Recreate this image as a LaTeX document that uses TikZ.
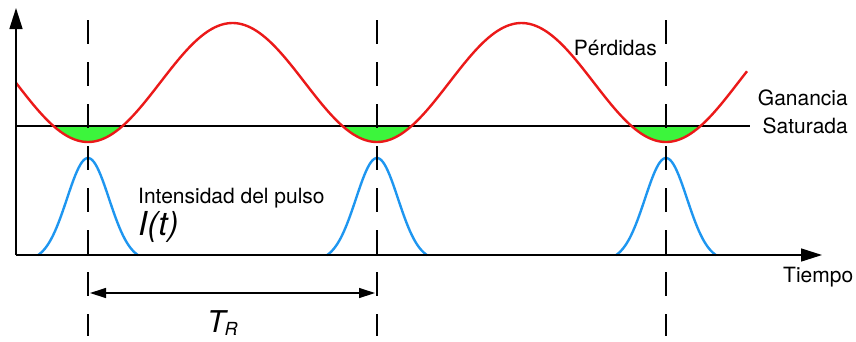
\documentclass[tikz,border=0pt]{standalone}
\usepackage{fontspec}
\setmainfont{TeX Gyre Heros}
\usetikzlibrary{arrows.meta}
\definecolor{lossred}{RGB}{235,25,25}
\definecolor{gaingreen}{RGB}{60,245,60}
\definecolor{pulseblue}{RGB}{30,150,240}
\tikzset{
  axis/.style={line width=1.5pt,-{Triangle[length=21pt,width=13pt]}},
  base/.style={line width=1.5pt},
  guide/.style={line width=1.4pt,dash pattern=on 24pt off 18pt,dash phase=-10pt},
  loss/.style={line width=2.4pt,lossred},
  pulse/.style={line width=2.4pt,pulseblue},
  period/.style={line width=1.3pt,{Triangle[length=16pt,width=10pt]}-{Triangle[length=16pt,width=10pt]}},
  lbl/.style={font=\fontsize{21}{28}\selectfont,inner sep=0pt},
}
\begin{document}
\begin{tikzpicture}[x=1pt,y=-1pt]
\useasboundingbox (0,0) rectangle (856,341);
\pgfmathsetmacro{\hw}{289*acos(43.5/59.5)/360}
% green gain windows
\foreach \c in {88,377,666}{
  \fill[gaingreen] plot[domain=\c-\hw:\c+\hw,samples=40] (\x,{82.5+59.5*cos((\x-\c)*1.245675)}) -- cycle;
}
% coordinates
\coordinate (o) at (16,255);
\coordinate (ytop) at (16,8);
\coordinate (xend) at (822,255);
\coordinate (gs) at (16,126);
\coordinate (ge) at (750,126);
% saturated gain line
\draw[base] (gs) -- (ge);
% losses
\draw[loss] plot[domain=16:747,samples=250] (\x,{82.5+59.5*cos((\x-88)*1.245675)});
% pulses
\foreach \c in {88,377,666}{
  \draw[pulse] plot[domain=\c-50:\c+50,samples=60] (\x,{255-97*(exp(-((\x-\c)/21)^2/2)-0.06)/0.94});
}
% axes
\draw[axis] (o) -- (ytop);
\draw[axis] (o) -- (xend);
% dashed guides
\foreach \c/\n in {88/a,377/b,666/c}{
  \coordinate (t\n) at (\c,10);
  \coordinate (b\n) at (\c,336);
  \draw[guide] (t\n) -- (b\n);
}
% period arrow
\coordinate (pa) at (90,293);
\coordinate (pb) at (375,293);
\draw[period] (pa) -- (pb);
% labels
\node[lbl,anchor=base east] (perd) at (657,55) {Pérdidas};
\node[lbl,align=right,anchor=base east] (gan) at (848,133) {Ganancia\\Saturada};
\node[lbl,anchor=base west] (tiem) at (783,282) {Tiempo};
\node[lbl,anchor=base west] (int) at (138,203) {Intensidad del pulso};
\node[inner sep=0pt,anchor=base west,font=\fontsize{33}{36}\selectfont\itshape] (it) at (138,235) {I(t)};
\node[inner sep=0pt,anchor=base west,font=\fontsize{30}{34}\selectfont\itshape] (tr) at (207,332) {T\kern-1pt\raisebox{-3pt}{\fontsize{18}{20}\selectfont R}};
\end{tikzpicture}
\end{document}
